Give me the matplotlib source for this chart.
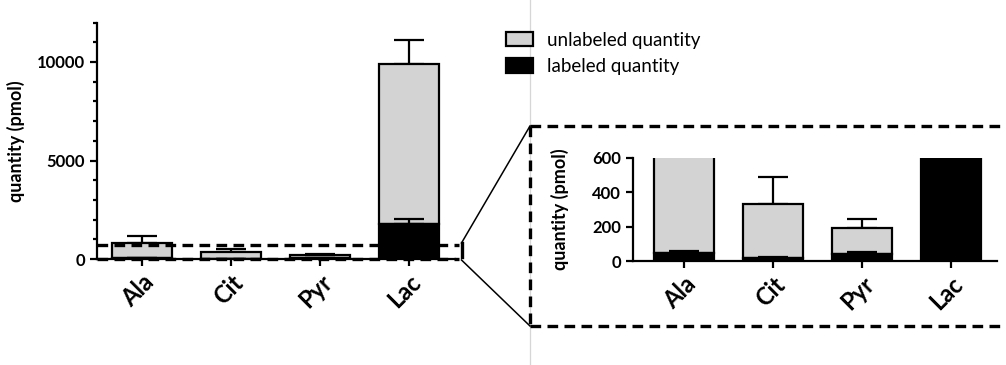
import matplotlib
matplotlib.use("Agg")
import matplotlib.pyplot as plt
from matplotlib.lines import Line2D
from matplotlib.patches import Patch
from matplotlib.ticker import MultipleLocator
import numpy as np

categories = ["Ala", "Cit", "Pyr", "Lac"]
labeled = [45, 15, 42, 1760]
labeled_err = [12, 8, 10, 255]
unlabeled = [760, 315, 153, 8120]
unlabeled_err = [340, 160, 50, 1220]
zoom_level = 700
legend_labels = ["unlabeled quantity", "labeled quantity"]

plt.rcParams['font.family'] = ['Lato', 'DejaVu Sans']

W, H = 1006, 365
fig = plt.figure(figsize=(W / 100, H / 100), dpi=100)

def fx(px):
    return px / W

def fy(py):
    return 1 - py / H

grey = "#d3d3d3"
bw = 0.674
ew = 1.6

def draw(ax, ymax):
    x = np.arange(len(categories))
    tot = np.array(labeled) + np.array(unlabeled)
    ax.bar(x, unlabeled, bw, bottom=labeled, color=grey, edgecolor="black", linewidth=ew, zorder=2)
    ax.errorbar(x, tot, yerr=[np.zeros(len(x)), unlabeled_err], fmt="none", ecolor="black",
                elinewidth=ew, capsize=10.5, capthick=ew, zorder=1)
    ax.bar(x, labeled, bw, color="black", edgecolor="black", linewidth=ew, zorder=3)
    ax.errorbar(x, labeled, yerr=[np.zeros(len(x)), labeled_err], fmt="none", ecolor="black",
                elinewidth=ew, capsize=10.5, capthick=ew, zorder=2.5)
    ax.set_ylim(0, ymax)
    for s in ["top", "right"]:
        ax.spines[s].set_visible(False)
    for s in ["left", "bottom"]:
        ax.spines[s].set_linewidth(1.6)
    ax.set_xticks(x)
    ax.set_xticklabels(categories, rotation=45, ha="right", rotation_mode="anchor",
                       fontsize=17, fontweight="bold")
    ax.tick_params(axis="both", direction="out", width=1.6, length=5)
    ax.tick_params(axis="y", labelsize=12)
    ax.set_ylabel("quantity (pmol)", fontsize=13, fontweight="bold")

# main axes
ax1 = fig.add_axes([fx(97), fy(259), fx(358), (259 - 22.6) / H])
draw(ax1, 12000)
ax1.set_xlim(-0.506, 3.52)
ax1.yaxis.set_major_locator(MultipleLocator(5000))
ax1.yaxis.set_minor_locator(MultipleLocator(1000))
ax1.tick_params(axis="y", which="minor", width=1.6, length=3)
for t in ax1.get_yticklabels():
    t.set_fontweight("bold")
ax1.yaxis.set_label_coords(-0.2, 0.5)

# inset axes
ax2 = fig.add_axes([fx(633), fy(261), fx(364), 103 / H])
draw(ax2, 600)
ax2.set_xlim(-0.573, 3.52)
ax2.yaxis.set_major_locator(MultipleLocator(200))
for t in ax2.get_yticklabels():
    t.set_fontweight("bold")
ax2.yaxis.set_label_coords(-0.175, 0.5)

# zoom indicator dashed lines on main axes
dash = (0, (3.2, 1.9))
lw = 2.4
ax1.plot([-0.506, 3.56], [zoom_level, zoom_level], color="black", lw=lw, linestyle=dash,
         clip_on=False, zorder=5)
ax1.plot([-0.506, 3.56], [0, 0], color="black", lw=lw, linestyle=dash, clip_on=False, zorder=5)

def fline(xs, ys, **kw):
    fig.add_artist(Line2D([fx(v) for v in xs], [fy(v) for v in ys], transform=fig.transFigure, **kw))

# light vertical separator
fline([530, 530], [0, H], color="#d6d6d6", lw=0.9)
# bracket
fline([461.5, 461.5], [243, 257], color="black", lw=lw)
# connectors
fline([461.5, 530], [243, 126], color="black", lw=1.1)
fline([461.5, 530], [260, 326], color="black", lw=1.1)
# dashed box
fline([530, 1006], [126, 126], color="black", lw=lw, linestyle=dash)
fline([530, 1006], [326, 326], color="black", lw=lw, linestyle=dash)
fline([530, 530], [126, 326], color="black", lw=lw, linestyle=dash)

# legend
handles = [Patch(facecolor=grey, edgecolor="black", linewidth=1.6),
           Patch(facecolor="black", edgecolor="black", linewidth=1.6)]
fig.legend(handles, legend_labels, loc="upper left", bbox_to_anchor=(fx(500), fy(26)),
           frameon=False, fontsize=13.5, handlelength=1.45, handleheight=0.8,
           handletextpad=0.75, labelspacing=0.5, borderaxespad=0, borderpad=0.3)

fig.savefig("out.png", dpi=100)
